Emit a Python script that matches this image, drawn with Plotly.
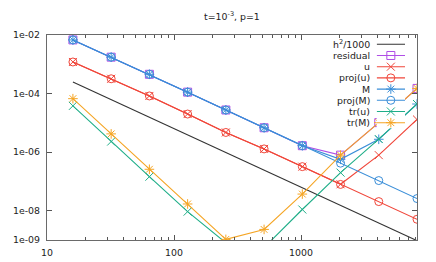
import plotly.graph_objects as go

N = [16, 32, 64, 128, 256, 512, 1024, 2048, 4096, 8192]

h2_1000 = [2.5e-4, 6.25e-5, 1.56e-5, 3.9e-6, 9.8e-7, 2.44e-7, 6.1e-8, 1.53e-8, 3.8e-9, 9.5e-10]
residual = [6.8e-3, 1.75e-3, 4.55e-4, 1.12e-4, 2.75e-5, 6.8e-6, 1.66e-6, 7.9e-7, 1.02e-5, 1.5e-4]
u = [1.2e-3, 3.2e-4, 8.3e-5, 2.0e-5, 4.7e-6, 1.29e-6, 3.2e-7, 8.0e-8, 7.9e-7, 1.3e-5]
proj_u = [1.2e-3, 3.2e-4, 8.3e-5, 2.0e-5, 4.7e-6, 1.29e-6, 3.2e-7, 7.9e-8, 2.05e-8, 5.1e-9]
M = [6.8e-3, 1.75e-3, 4.55e-4, 1.12e-4, 2.75e-5, 6.8e-6, 1.66e-6, 5.7e-7, 2.75e-6, 4.4e-5]
proj_M = [6.8e-3, 1.75e-3, 4.55e-4, 1.12e-4, 2.75e-5, 6.8e-6, 1.66e-6, 4.2e-7, 1.07e-7, 2.6e-8]
tr_u = [3.8e-5, 2.3e-6, 1.45e-7, 9.3e-9, 8.0e-10, 5.5e-10, 1.1e-8, 2.0e-7, 2.8e-6, 4.4e-5]
tr_M = [6.7e-5, 4.2e-6, 2.6e-7, 1.7e-8, 1.05e-9, 2.3e-9, 3.7e-8, 7.9e-7, 1.02e-5, 1.5e-4]

names = ["h<sup>2</sup>/1000", "residual", "u", "proj(u)", "M", "proj(M)", "tr(u)", "tr(M)"]
series = [h2_1000, residual, u, proj_u, M, proj_M, tr_u, tr_M]
colors = ["#333333", "#b04ee6", "#f0463a", "#f0463a", "#3a8ed8", "#3a8ed8", "#1fae88", "#f5a524"]
symbols = [None, "square-open", "x-thin-open", "circle-open", "asterisk-open",
           "circle-open", "x-thin-open", "asterisk-open"]

x_ticks = [10, 100, 1000]
x_ticktext = ["10", "100", "1000"]
x_minor_ticks = [20, 30, 40, 50, 60, 70, 80, 90,
                 200, 300, 400, 500, 600, 700, 800, 900,
                 2000, 3000, 4000, 5000, 6000, 7000, 8000]
y_ticks = [1e-2, 1e-4, 1e-6, 1e-8, 1e-9]
y_ticktext = ["1e-02", "1e-04", "1e-06", "1e-08", "1e-09"]

FONT = "DejaVu Sans"
MSIZE = 8
fig = go.Figure()

for name, ys, c, s in zip(names, series, colors, symbols):
    if s is None:
        fig.add_trace(go.Scatter(x=N, y=ys, mode="lines", name=name,
                                 line=dict(color=c, width=1.1), showlegend=False))
    else:
        fig.add_trace(go.Scatter(x=N, y=ys, mode="lines+markers", name=name,
                                 line=dict(color=c, width=1.1),
                                 marker=dict(symbol=s, size=MSIZE, color=c,
                                             line=dict(color=c, width=1)),
                                 showlegend=False))

# custom legend (text left of sample) on a hidden helper subplot
n = len(names)
for i, (name, c, s) in enumerate(zip(names, colors, symbols)):
    fig.add_trace(go.Scatter(x=[0, 1], y=[i, i], mode="lines", xaxis="x2", yaxis="y2",
                             line=dict(color=c, width=1.1), showlegend=False,
                             hoverinfo="skip"))
    if s is not None:
        fig.add_trace(go.Scatter(x=[0.5], y=[i], mode="markers", xaxis="x2", yaxis="y2",
                                 marker=dict(symbol=s, size=MSIZE, color=c,
                                             line=dict(color=c, width=1)),
                                 showlegend=False, hoverinfo="skip"))
    fig.add_annotation(x=0, y=i, xref="x2", yref="y2", text=name, showarrow=False,
                       xanchor="right", yanchor="middle", xshift=-5,
                       font=dict(family=FONT, size=9.4, color="#222"))

axis_common = dict(showgrid=False, zeroline=False, showline=True, linecolor="#6a6a6a",
                   linewidth=1.3, ticks="inside", ticklen=5, tickcolor="#555",
                   mirror="allticks", automargin=False,
                   tickfont=dict(family=FONT, size=9.4, color="#222"))

fig.update_layout(
    width=436, height=262,
    margin=dict(l=47, r=19, t=35, b=22),
    paper_bgcolor="white", plot_bgcolor="white",
    showlegend=False,
    title=dict(text="t=10<sup>-3</sup>, p=1", x=0.532, xanchor="center",
               y=0.935, yanchor="middle", yref="container",
               font=dict(family=FONT, size=9.4, color="#222")),
    xaxis=dict(type="log", range=[1, 3.9133], tickvals=x_ticks, ticktext=x_ticktext,
               ticklabelstandoff=4,
               minor=dict(ticks="inside", ticklen=3, tickcolor="#555", showgrid=False,
                          tickvals=x_minor_ticks),
               **axis_common),
    yaxis=dict(type="log", range=[-9, -2], tickvals=y_ticks, ticktext=y_ticktext,
               ticklabelstandoff=4, **axis_common),
    xaxis2=dict(domain=[0.891, 0.9676], range=[0, 1], visible=False, anchor="y2",
                fixedrange=True),
    yaxis2=dict(domain=[0.545, 0.982], range=[n - 0.5, -0.5], visible=False, anchor="x2",
                fixedrange=True),
)

fig.write_html("out.html", config={"displayModeBar": False},
               post_script="document.body.style.margin='0';")
